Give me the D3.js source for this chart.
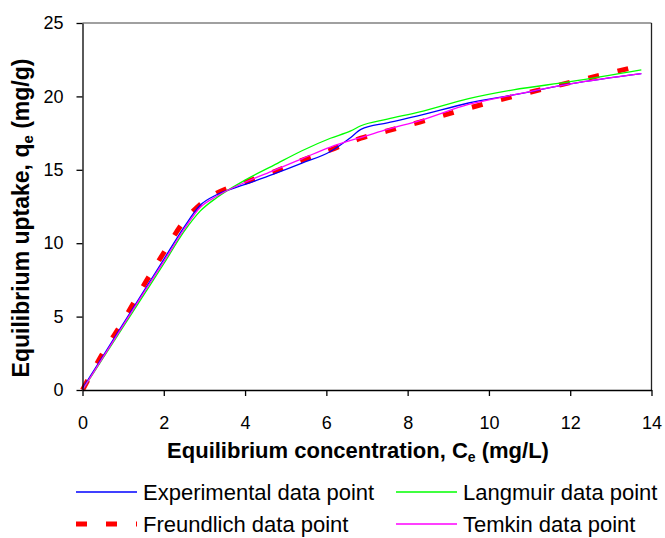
<!DOCTYPE html>
<html>
<head>
<meta charset="utf-8">
<script src="https://cdn.jsdelivr.net/npm/d3@7"></script>
<style>
  body { margin: 0; background: #fff; }
  svg { display: block; font-family: "Liberation Sans", Arial, sans-serif; }
</style>
</head>
<body>
<div id="chart"></div>
<script>
// equilibrium concentration Ce (mg/L)
const ce = [0, 0.5, 1, 1.5, 2, 2.5, 2.9, 3.3, 4, 4.7, 5.4, 6.1, 6.6, 6.85, 7.5, 8.3, 9.5, 10.6, 12, 13.75];

// uptake qe (mg/g) per series
const experimental = [0.1, 2.3, 4.5, 6.7, 8.9, 11.1, 12.6, 13.3, 14.0, 14.7, 15.45, 16.25, 17.2, 17.75, 18.2, 18.7, 19.55, 20.1, 20.85, 21.55];
const langmuir     = [0, 2.15, 4.3, 6.45, 8.6, 10.8, 12.2, 13.1, 14.3, 15.3, 16.3, 17.15, 17.65, 18.0, 18.45, 18.95, 19.85, 20.45, 21.0, 21.8];
const freundlich   = [0, 2.5, 4.7, 7.1, 9.35, 11.5, 12.65, 13.4, 14.15, 14.85, 15.65, 16.35, 16.9, 17.15, 17.65, 18.25, 19.2, 20.0, 20.95, 22.1];
const temkin       = [0, 2.2, 4.4, 6.6, 8.75, 10.95, 12.45, 13.2, 14.15, 14.95, 15.75, 16.55, 17.0, 17.2, 17.75, 18.35, 19.45, 20.1, 20.85, 21.55];

const xTicks = [0, 2, 4, 6, 8, 10, 12, 14];
const yTicks = [0, 5, 10, 15, 20, 25];

const series = [
  { name: "Freundlich data point", values: freundlich, color: "#ff0000", width: 5, dash: "11,19" },
  { name: "Experimental data point", values: experimental, color: "#0000ff", width: 1.3, dash: null },
  { name: "Langmuir data point", values: langmuir, color: "#00ff00", width: 1.3, dash: null },
  { name: "Temkin data point", values: temkin, color: "#ff00ff", width: 1.3, dash: null }
];

const width = 665, height = 538;
const plot = { left: 82.5, right: 651.5, top: 23, bottom: 390 };

const svg = d3.select("#chart").append("svg")
  .attr("width", width)
  .attr("height", height);

const x = d3.scaleLinear().domain([0, 14]).range([plot.left, plot.right]);
const y = d3.scaleLinear().domain([0, 25]).range([plot.bottom, plot.top]);

// plot area border (top grey, right dark)
svg.append("line")
  .attr("x1", plot.left).attr("x2", plot.right)
  .attr("y1", plot.top).attr("y2", plot.top)
  .attr("stroke", "#808080").attr("stroke-width", 1.5);
svg.append("line")
  .attr("x1", plot.right).attr("x2", plot.right)
  .attr("y1", plot.top).attr("y2", plot.bottom)
  .attr("stroke", "#222").attr("stroke-width", 1.3);

const line = d3.line()
  .curve(d3.curveMonotoneX)
  .x((d, i) => x(ce[i]))
  .y(d => y(d));

svg.append("g")
  .selectAll("path")
  .data(series)
  .join("path")
  .attr("fill", "none")
  .attr("stroke", d => d.color)
  .attr("stroke-width", d => d.width)
  .attr("stroke-dasharray", d => d.dash)
  .attr("d", d => line(d.values));

// axes
const xAxis = svg.append("g")
  .attr("transform", `translate(0,${plot.bottom})`)
  .call(d3.axisBottom(x).tickValues(xTicks).tickSize(6).tickSizeOuter(0).tickPadding(20));

const yAxis = svg.append("g")
  .attr("transform", `translate(${plot.left},0)`)
  .call(d3.axisLeft(y).tickValues(yTicks).tickSize(6).tickSizeOuter(0).tickPadding(13));

[xAxis, yAxis].forEach(g => {
  g.selectAll(".domain, line").attr("stroke", "#000").attr("stroke-width", 1.3);
  g.selectAll("text")
    .attr("fill", "#000")
    .style("font-size", "18px")
    .style("font-family", "'Liberation Sans', Arial, sans-serif");
});

// axis titles
const xTitle = svg.append("text")
  .attr("x", 358)
  .attr("y", 457.5)
  .attr("text-anchor", "middle")
  .style("font-size", "22px")
  .style("font-weight", "bold");
xTitle.append("tspan").text("Equilibrium concentration, C");
xTitle.append("tspan").attr("dy", 4).style("font-size", "14px").text("e");
xTitle.append("tspan").attr("dy", -4).text(" (mg/L)");

const yTitle = svg.append("text")
  .attr("transform", `translate(29,218) rotate(-90)`)
  .attr("text-anchor", "middle")
  .style("font-size", "23px")
  .style("font-weight", "bold");
yTitle.append("tspan").text("Equilibrium uptake, q");
yTitle.append("tspan").attr("dy", 4).style("font-size", "15px").text("e");
yTitle.append("tspan").attr("dy", -4).text(" (mg/g)");

// legend
const legendItems = [
  { s: series[1], x: 76, y: 492 },
  { s: series[2], x: 396, y: 492 },
  { s: series[0], x: 76, y: 524 },
  { s: series[3], x: 396, y: 524 }
];

const legend = svg.append("g")
  .selectAll("g")
  .data(legendItems)
  .join("g")
  .attr("transform", d => `translate(${d.x},${d.y})`);

legend.append("line")
  .attr("x1", 0).attr("x2", 61)
  .attr("stroke", d => d.s.color)
  .attr("stroke-width", d => d.s.dash ? 5 : 1.3)
  .attr("stroke-dasharray", d => d.s.dash);

legend.append("text")
  .attr("x", 67)
  .attr("dy", "0.35em")
  .style("font-size", "22px")
  .text(d => d.s.name);
</script>
</body>
</html>
